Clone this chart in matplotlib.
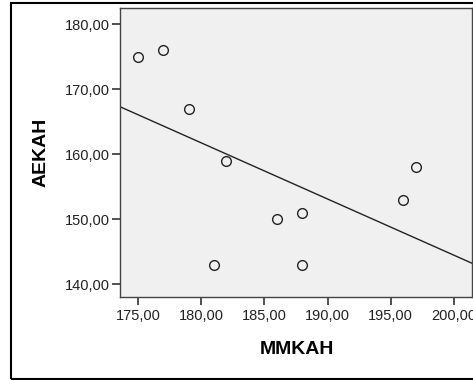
import matplotlib
matplotlib.use("Agg")
import numpy as np
import matplotlib.pyplot as plt
from matplotlib.patches import Rectangle

plt.rcParams['font.family'] = ['Liberation Sans', 'DejaVu Sans']

# data
mmkah = [175, 177, 179, 182, 181, 186, 188, 188, 196, 197]
aekah = [175, 176, 167, 159, 143, 150, 151, 143, 153, 158]
xticks = [175, 180, 185, 190, 195, 200]
yticks = [140, 150, 160, 170, 180]

W, H = 473, 380
fig = plt.figure(figsize=(W / 100, H / 100), dpi=100)
fig.patch.set_facecolor('white')

# outer frame (right edge runs off the picture)
fig.patches.append(Rectangle((11 / W, 1.5 / H), 1.0, (377 - 1.5) / H,
                             transform=fig.transFigure, fill=False,
                             edgecolor='black', linewidth=1.5))

ax = fig.add_axes([120 / W, 1 - 297 / H, (471.7 - 120) / W, (297 - 8) / H])
ax.set_facecolor('#F0F0F0')

x = np.array(mmkah, dtype=float)
y = np.array(aekah, dtype=float)
ax.plot(x, y, linestyle='none', marker='o', markersize=7,
        markerfacecolor='none', markeredgecolor='#222222', markeredgewidth=1.0)

xmin, xmax = 173.58, 201.4
k, b = np.polyfit(x, y, 1)
xs = np.array([xmin, xmax])
ax.plot(xs, k * xs + b, color='#222222', linewidth=1.0)

ax.set_xlim(xmin, xmax)
ax.set_ylim(138.0, 182.5)
ax.set_xticks(xticks)
ax.set_yticks(yticks)
ax.set_xticklabels([('%.2f' % v).replace('.', ',') for v in xticks])
ax.set_yticklabels([('%.2f' % v).replace('.', ',') for v in yticks])
ax.tick_params(direction='out', length=6, width=1.2, color='#333333',
               labelsize=10.5, labelcolor='#222222')
ax.tick_params(axis='y', pad=1.5)
ax.tick_params(axis='x', pad=3)
for s in ax.spines.values():
    s.set_color('#444444')
    s.set_linewidth(1.0)

fig.text(297 / W, 1 - 349 / H, 'MMKAH', fontsize=14, fontweight='bold',
         ha='center', va='center')
fig.text(41 / W, 1 - 152 / H, 'AEKAH', fontsize=14, fontweight='bold',
         ha='center', va='center', rotation=90)

fig.savefig('out.png', dpi=100)
